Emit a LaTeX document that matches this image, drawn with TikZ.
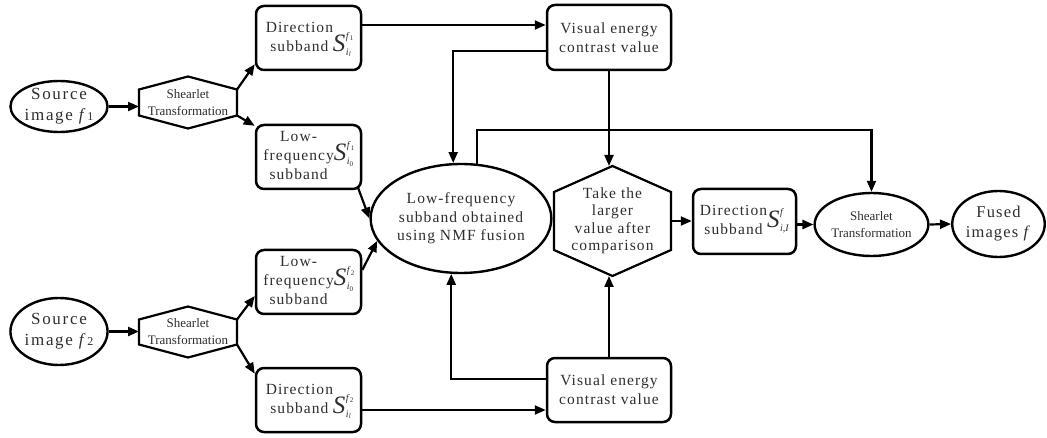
\documentclass[tikz,border=0pt]{standalone}
\usepackage{fontspec}
\setmainfont{Liberation Serif}
\newfontfamily\boxfont[LetterSpace=7]{Liberation Serif}
\newfontfamily\bigfont[LetterSpace=10]{Liberation Serif}
\newfontfamily\plainfont{Liberation Serif}
\usetikzlibrary{arrows.meta,shapes.geometric,calc}
\newcommand\Sy[2]{{\plainfont\fontsize{25}{25}\selectfont\itshape S}\hspace{0.5pt}\rlap{\raisebox{12pt}{\plainfont\fontsize{10}{10}\selectfont #1}}\raisebox{-4pt}{\plainfont\fontsize{10}{10}\selectfont #2}}
\newcommand\hexdraw[2]{\draw[line width=2.2pt,line join=miter] (#1.north) -- ([yshift=-#2]#1.north east) -- ([yshift=#2]#1.south east) -- (#1.south) -- ([yshift=#2]#1.south west) -- ([yshift=-#2]#1.north west) -- cycle;}
\tikzset{
  box/.style={draw, line width=2.5pt, rounded corners=8pt, minimum width=105pt, minimum height=64pt, inner sep=0pt, align=center, font=\boxfont\fontsize{15.5}{19}\selectfont, text=black!82},
  ell/.style={draw, ellipse, line width=2.4pt, inner sep=0pt, align=center, text=black!82},
  hexn/.style={inner sep=0pt, outer sep=0pt, align=center, text=black!82},
  arr/.style={line width=2.2pt, -{Triangle[length=11pt,width=9pt]}},
  srcfont/.style={font=\bigfont\fontsize{17}{21}\selectfont},
  shfont/.style={font=\plainfont\fontsize{13}{17}\selectfont},
}
\begin{document}
\begin{tikzpicture}[x=1pt,y=-1pt]
\useasboundingbox (0,0) rectangle (1047,438);
% left column
\node[ell, srcfont, minimum width=94pt, minimum height=51pt] (src1) at (59,106.5) {Source\\image \textit{f}{\fontsize{12}{12}\selectfont 1}};
\node[ell, srcfont, minimum width=94pt, minimum height=67pt] (src2) at (59,331.5) {Source\\image \textit{f}{\fontsize{12}{12}\selectfont 2}};
\node[hexn, shfont, minimum width=98pt, minimum height=52pt] (sh1) at (188,102.5) {Shearlet\\Transformation};
\hexdraw{sh1}{13pt}
\node[hexn, shfont, minimum width=98pt, minimum height=51pt] (sh2) at (188,332) {Shearlet\\Transformation};
\hexdraw{sh2}{13pt}
% subband boxes
\node[box] (dir1) at (308.5,38) {\begin{tabular}{@{}c@{}l@{}}Direction&\\subband&\smash{\Sy{\textit{f}\textsubscript{1}}{\textit{i}\textsubscript{\textit{l}}}}\end{tabular}};
\node[box] (low1) at (308.5,157) {\begin{tabular}{@{}c@{}l@{}}Low-&\\frequency&\smash{\Sy{\textit{f}\textsubscript{1}}{\textit{i}\textsubscript{0}}}\\subband&\end{tabular}};
\node[box] (low2) at (308.5,282) {\begin{tabular}{@{}c@{}l@{}}Low-&\\frequency&\smash{\Sy{\textit{f}\textsubscript{2}}{\textit{i}\textsubscript{0}}}\\subband&\end{tabular}};
\node[box] (dir2) at (308.5,400) {\begin{tabular}{@{}c@{}l@{}}Direction&\\subband&\smash{\Sy{\textit{f}\textsubscript{2}}{\textit{i}\textsubscript{\textit{l}}}}\end{tabular}};
% middle
\node[ell, font=\boxfont\fontsize{15.5}{18.5}\selectfont, minimum width=150pt, minimum height=109pt] (nmf) at (461,218.5) {Low-frequency\\subband obtained\\using NMF fusion};
\node[box, minimum width=124pt, minimum height=65pt] (ve1) at (609,37.5) {Visual energy\\contrast value};
\node[box, minimum width=124pt, minimum height=64pt] (ve2) at (609,390) {Visual energy\\contrast value};
\node[hexn, font=\boxfont\fontsize{15.5}{17.5}\selectfont, minimum width=117pt, minimum height=110pt] (cmp) at (612.5,221) {Take the\\larger\\value after\\comparison};
\hexdraw{cmp}{26pt}
% right
\node[box, minimum width=103pt, minimum height=65pt] (dirI) at (744.5,221.5) {\begin{tabular}{@{}c@{}l@{}}Direction&\smash{\raisebox{-12pt}{\Sy{\textit{f}}{\textit{i},\textit{I}}}}\\subband&\end{tabular}};
\node[ell, shfont, minimum width=105pt, minimum height=63pt] (sh3) at (871.5,224.5) {Shearlet\\Transformation};
\node[ell, font=\boxfont\fontsize{16.5}{20}\selectfont, minimum width=91pt, minimum height=66pt] (fused) at (998.5,224) {Fused\\images \textit{f}};
\coordinate (bus) at (0,130);
% connectors
\draw[arr] (src1) -- (src1 -| sh1.west);
\draw[arr] (src2) -- (src2 -| sh2.west);
\draw[arr] ([yshift=-13pt]sh1.north east) -- ([yshift=7pt]dir1.south west);
\draw[arr] ([yshift=13pt]sh1.south east) -- ([yshift=-2pt]low1.north west);
\draw[arr] ([yshift=-13pt]sh2.north east) -- ([yshift=-14pt]low2.west);
\draw[arr] ([yshift=13pt]sh2.south east) -- ([yshift=-7pt]dir2.north west);
\draw[arr] ([yshift=13pt]dir1.east) -- ([yshift=13pt]dir1.east -| ve1.west);
\draw[arr] ([yshift=-10pt]dir2.east) -- ([yshift=-10pt]dir2.east -| ve2.west);
\draw[arr] ([yshift=-13.5pt]ve1.west) -| (nmf.98);
\draw[arr] ([yshift=11pt]ve2.west) -| (nmf.260);
\draw[arr] (ve1.south) -- (ve1.south |- cmp.north);
\draw[arr] (ve2.north) -- (ve2.north |- cmp.south);
\draw[arr] (nmf.74) -- (nmf.74 |- bus) -| (sh3.north);
\draw[arr] ([xshift=-4pt,yshift=2pt]low1.south east) -- (nmf.west);
\draw[arr] ([yshift=12pt]low2.east) -- (nmf.195);
\draw[arr] (cmp.east) -- (cmp.east -| dirI.west);
\draw[arr] (dirI.east |- sh3) -- (sh3.west);
\draw[arr] (sh3.east) -- (fused.west);
\end{tikzpicture}
\end{document}
